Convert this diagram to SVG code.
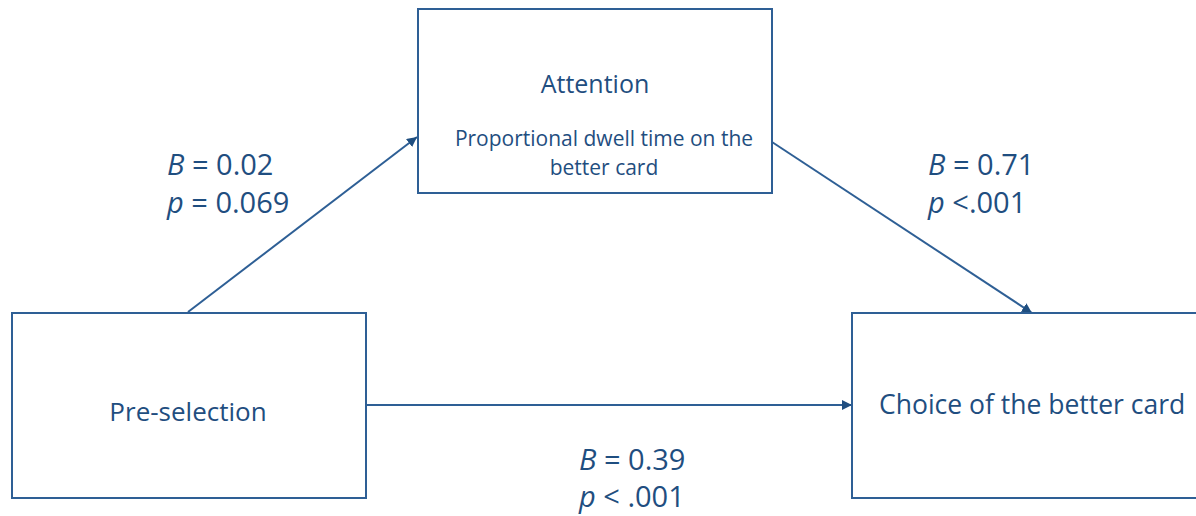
<svg xmlns="http://www.w3.org/2000/svg" width="1196" height="516" viewBox="0 0 1196 516">
<style>
.box{fill:#fff;stroke:#2E5F95;stroke-width:2}
.t{font-family:"Open Sans","Liberation Sans",sans-serif;fill:#1F4E80}
.c{text-anchor:middle}
.lab{font-size:29px}
.conn{stroke:#2E5F95;stroke-width:2;fill:none;marker-end:url(#ah)}
</style>
<defs>
<marker id="ah" viewBox="0 0 10 10" refX="10" refY="5" markerWidth="5" markerHeight="5" orient="auto" markerUnits="strokeWidth">
<path d="M0,0 L10,5 L0,10 z" fill="#1F4E80"/>
</marker>
</defs>
<rect width="1196" height="516" fill="#fff"/>
<g id="connectors">
<line class="conn" x1="188" y1="312" x2="417" y2="137"/>
<line class="conn" x1="772" y1="142" x2="1032" y2="313"/>
<line class="conn" x1="366" y1="405" x2="852" y2="405"/>
</g>
<g id="attention">
<rect class="box" x="418" y="9" width="354" height="184"/>
<text class="t c" x="595" y="93" font-size="25">Attention</text>
<text class="t c" x="604" y="146" font-size="21">Proportional dwell time on the</text>
<text class="t c" x="604" y="175" font-size="21">better card</text>
</g>
<g id="preselection">
<rect class="box" x="12" y="313" width="354" height="185"/>
<text class="t c" x="188" y="421" font-size="26">Pre-selection</text>
</g>
<g id="choice">
<rect class="box" x="852" y="313" width="360" height="185"/>
<text class="t" x="879" y="414" font-size="26.5">Choice of the better card</text>
</g>
<g id="labels">
<text class="t lab" x="167" y="175"><tspan font-style="italic">B</tspan> = 0.02</text>
<text class="t lab" x="167" y="213"><tspan font-style="italic">p</tspan> = 0.069</text>
<text class="t lab" x="928" y="175"><tspan font-style="italic">B</tspan> = 0.71</text>
<text class="t lab" x="928" y="213"><tspan font-style="italic">p</tspan> &lt;.001</text>
<text class="t lab" x="579" y="470"><tspan font-style="italic">B</tspan> = 0.39</text>
<text class="t lab" x="579" y="507"><tspan font-style="italic">p</tspan> &lt; .001</text>
</g>
</svg>
